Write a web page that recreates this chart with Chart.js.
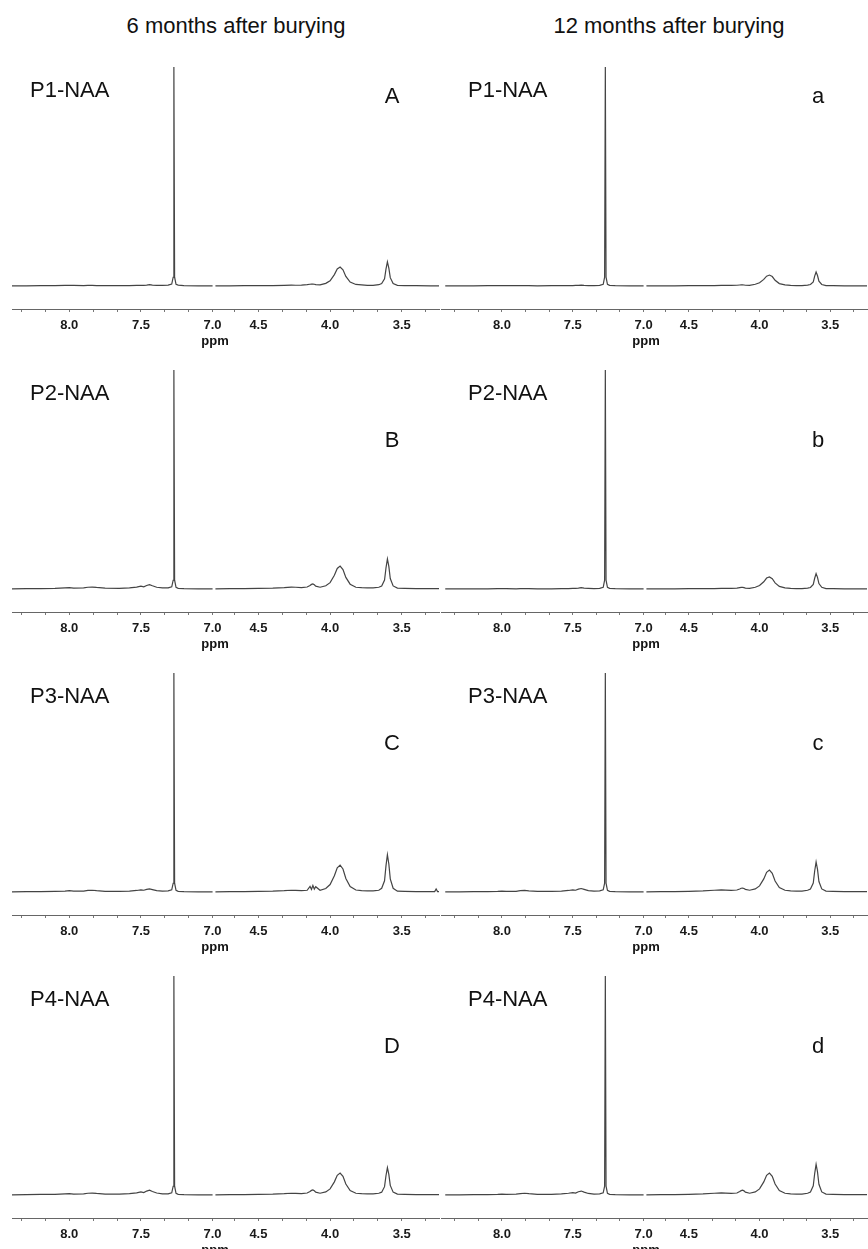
<!DOCTYPE html>
<html>
<head>
<meta charset="utf-8">
<script src="https://cdn.jsdelivr.net/npm/chart.js@4.4.1/dist/chart.umd.min.js"></script>
<style>
  html, body { margin:0; padding:0; background:#fff; }
  body { width:868px; height:1249px; position:relative; overflow:hidden; font-family:"Liberation Sans", Arial, sans-serif; }
  canvas { position:absolute; }
  .t { position:absolute; line-height:1; white-space:nowrap; color:#111; transform:translate(-50%,-50%); }
  .l { position:absolute; line-height:1; white-space:nowrap; color:#111; transform:translate(0,-50%); }
</style>
</head>
<body>
<script>
// ---------- text ----------
const columnTitles = ["6 months after burying", "12 months after burying"];
const sampleLabels = ["P1-NAA", "P2-NAA", "P3-NAA", "P4-NAA"];
const panelLetters = [["A", "a"], ["B", "b"], ["C", "c"], ["D", "d"]];
const axisTitle = "ppm";

// ---------- ppm grids (x categories) ----------
const ppmLow = [8.40, 8.30, 8.20, 8.10, 8.03, 8.00, 7.97, 7.90, 7.87, 7.84, 7.81, 7.75, 7.65, 7.58, 7.53, 7.50,
                7.48, 7.46, 7.44, 7.42, 7.39, 7.35, 7.31, 7.285, 7.275, 7.27, 7.265, 7.255, 7.24, 7.20, 7.10, 7.00];
const ppmHigh = [4.80, 4.70, 4.60, 4.50, 4.40, 4.32, 4.27, 4.24, 4.20, 4.16, 4.14, 4.13, 4.12, 4.11, 4.10, 4.07,
                 4.03, 4.00, 3.97, 3.95, 3.93, 3.91, 3.89, 3.86, 3.82, 3.78, 3.74, 3.70, 3.66, 3.64, 3.62, 3.61,
                 3.60, 3.59, 3.58, 3.56, 3.53, 3.48, 3.40, 3.30, 3.27, 3.26, 3.25, 3.24];

// ---------- tick values ----------
const ticksLow  = [8.3333, 8.1667, 8.0, 7.8333, 7.6667, 7.5, 7.3333, 7.1667, 7.0];
const ticksHigh = [4.6667, 4.5, 4.3333, 4.1667, 4.0, 3.8333, 3.6667, 3.5, 3.3333];
const labelledTicks = [8.0, 7.5, 7.0, 4.5, 4.0, 3.5];

// ---------- intensities (% of the 7.27 ppm line) ----------
const A_low  = [0.1,0.1,0.15,0.2,0.25,0.3,0.25,0.2,0.3,0.25,0.2,0.15,0.2,0.2,0.25,0.3,0.3,0.4,0.6,0.4,0.3,0.3,0.4,0.9,4,100,4,0.8,0.4,0.2,0.1,0.1];
const A_high = [0.1,0.1,0.15,0.2,0.2,0.3,0.4,0.35,0.4,0.6,0.8,0.9,0.9,0.8,0.6,0.5,1.2,2.4,5.2,7.8,8.7,7.4,4.4,1.8,0.7,0.5,0.3,0.3,0.6,1.1,3.3,7.7,11,8.2,3.8,1.1,0.3,0.2,0.15,0.1,0.1,0.1,0.1,0.1];
const a_low  = [0.1,0.1,0.1,0.15,0.2,0.2,0.2,0.15,0.2,0.2,0.15,0.1,0.15,0.15,0.2,0.2,0.25,0.3,0.4,0.3,0.2,0.2,0.3,0.8,4,100,4,0.8,0.3,0.2,0.1,0.1];
const a_high = [0.1,0.1,0.1,0.15,0.15,0.2,0.25,0.25,0.25,0.35,0.45,0.5,0.5,0.45,0.35,0.3,0.8,1.5,3.0,4.5,5.0,4.3,2.6,1.1,0.5,0.3,0.2,0.2,0.4,0.7,1.9,4.5,6.4,4.8,2.2,0.7,0.2,0.15,0.1,0.1,0.1,0.1,0.1,0.1];
const B_low  = [0.1,0.2,0.2,0.3,0.5,0.6,0.4,0.5,0.8,0.9,0.7,0.4,0.3,0.5,0.9,1.3,1.0,1.6,2.0,1.5,0.8,0.5,0.5,1.0,4,100,4,0.8,0.3,0.2,0.1,0.1];
const B_high = [0.1,0.15,0.2,0.3,0.4,0.6,0.9,0.8,0.6,0.9,1.6,2.1,2.3,1.9,1.3,0.8,1.5,2.9,6.3,9.4,10.5,8.9,5.3,2.2,0.8,0.6,0.5,0.5,0.8,1.4,4.1,9.6,13.7,10.3,4.8,1.4,0.4,0.3,0.2,0.2,0.2,0.2,0.2,0.2];
const b_low  = [0.1,0.1,0.1,0.1,0.15,0.2,0.15,0.1,0.15,0.2,0.15,0.1,0.1,0.15,0.2,0.3,0.3,0.4,0.6,0.4,0.3,0.2,0.3,0.8,4,100,4,0.8,0.3,0.2,0.1,0.1];
const b_high = [0.1,0.1,0.1,0.15,0.15,0.2,0.3,0.3,0.3,0.4,0.6,0.7,0.7,0.6,0.4,0.3,0.8,1.6,3.3,5.0,5.5,4.7,2.8,1.2,0.5,0.3,0.2,0.2,0.4,0.7,2.1,4.9,7.0,5.3,2.5,0.8,0.2,0.15,0.1,0.1,0.1,0.1,0.1,0.1];
const C_low  = [0.1,0.2,0.2,0.3,0.4,0.6,0.4,0.4,0.7,0.8,0.6,0.3,0.3,0.4,0.7,1.0,0.8,1.2,1.4,1.1,0.6,0.4,0.5,1.0,4,100,4,0.8,0.3,0.2,0.1,0.1];
const C_high = [0.1,0.15,0.2,0.3,0.4,0.6,0.8,0.7,0.6,0.8,2.6,1.2,3.0,1.3,2.4,0.8,1.6,3.4,7.4,11,12.3,10.5,6.2,2.5,0.9,0.6,0.5,0.5,0.8,1.7,5.1,11.9,17,12.8,6,1.7,0.4,0.3,0.2,0.2,0.2,1.4,0.2,0.2];
const c_low  = [0.1,0.1,0.2,0.2,0.3,0.4,0.3,0.3,0.6,0.7,0.5,0.3,0.3,0.4,0.7,1.0,0.8,1.3,1.6,1.2,0.6,0.4,0.5,1.0,4,100,4,0.8,0.3,0.2,0.1,0.1];
const c_high = [0.1,0.15,0.2,0.3,0.5,0.8,1.0,0.9,0.7,0.9,1.4,1.7,1.8,1.6,1.2,0.8,1.4,2.8,6,9,10,8.5,5,2,0.8,0.5,0.4,0.4,0.8,1.4,4.1,9.6,13.7,10.3,4.8,1.4,0.4,0.3,0.2,0.2,0.2,0.2,0.2,0.2];
const D_low  = [0.1,0.2,0.3,0.3,0.5,0.6,0.4,0.5,0.8,0.9,0.7,0.4,0.4,0.6,1.0,1.4,1.1,1.8,2.2,1.6,0.9,0.5,0.5,1.0,4,100,4,0.8,0.3,0.2,0.1,0.1];
const D_high = [0.1,0.15,0.2,0.3,0.4,0.6,0.8,0.7,0.6,0.9,1.6,2.1,2.3,1.9,1.3,0.8,1.4,2.8,6,9,10,8.5,5,2,0.8,0.6,0.5,0.5,0.8,1.3,3.8,8.8,12.5,9.4,4.4,1.3,0.4,0.3,0.2,0.2,0.2,0.2,0.2,0.2];
const d_low  = [0.1,0.1,0.2,0.2,0.3,0.4,0.3,0.4,0.6,0.8,0.6,0.3,0.3,0.5,0.8,1.1,0.9,1.5,1.8,1.3,0.7,0.4,0.5,1.0,4,100,4,0.8,0.3,0.2,0.1,0.1];
const d_high = [0.1,0.15,0.2,0.3,0.5,0.8,1.0,0.9,0.7,0.9,1.6,2.0,2.2,1.9,1.3,0.8,1.4,2.8,6,9,10,8.5,5,2,0.8,0.5,0.4,0.4,0.8,1.4,4.2,9.8,14,10.5,4.9,1.4,0.4,0.3,0.2,0.2,0.2,0.2,0.2,0.2];

const spectra = [
  [[A_low, A_high], [a_low, a_high]],
  [[B_low, B_high], [b_low, b_high]],
  [[C_low, C_high], [c_low, c_high]],
  [[D_low, D_high], [d_low, d_high]]
];

// ---------- layout ----------
const FONT = '"Liberation Sans", Arial, sans-serif';
const rowAxisY = [309, 612, 915, 1218];
const colX0 = [12, 441];
const colPx = [143.5, 141.5];
const colLowMax = [8.40, 8.43];
const LOW_MIN = 6.99, HIGH_MAX = 4.81, HIGH_MIN = 3.24;
const PAD = 16, AREA_H = 250, AXIS_H = 40;
const Y_MIN = -10.5, Y_MAX = 103.65;

function addText(txt, x, y, size, cls, weight) {
  const d = document.createElement('div');
  d.className = cls;
  d.textContent = txt;
  d.style.left = x + 'px';
  d.style.top = y + 'px';
  d.style.fontSize = size + 'px';
  d.style.fontFamily = FONT;
  if (weight) d.style.fontWeight = weight;
  document.body.appendChild(d);
}

function isMajor(v) { return labelledTicks.some(t => Math.abs(t - v) < 1e-3); }

function makeSegment(left, top, areaW, xs, ys, min, max, tickVals) {
  const cv = document.createElement('canvas');
  cv.width = areaW + 2 * PAD;
  cv.height = AREA_H + AXIS_H;
  cv.style.left = (left - PAD) + 'px';
  cv.style.top = top + 'px';
  document.body.appendChild(cv);
  new Chart(cv, {
    type: 'line',
    data: { datasets: [{
      data: xs.map((x, i) => ({ x: x, y: ys[i] })),
      borderColor: '#444', borderWidth: 1.2, pointRadius: 0, tension: 0, fill: false
    }]},
    options: {
      animation: false, responsive: false, maintainAspectRatio: false,
      layout: { padding: { left: PAD, right: PAD, top: 0, bottom: 0 } },
      plugins: { legend: { display: false }, tooltip: { enabled: false } },
      scales: {
        x: {
          type: 'linear', reverse: true, min: min, max: max,
          afterBuildTicks: s => { s.ticks = tickVals.map(v => ({ value: v })); },
          afterFit: s => { s.height = AXIS_H; },
          ticks: {
            autoSkip: false, maxRotation: 0, minRotation: 0, padding: 6, color: '#1a1a1a',
            font: { family: FONT, weight: 'bold', size: 13 },
            callback: v => isMajor(v) ? Number(v).toFixed(1) : ''
          },
          grid: { drawOnChartArea: false, drawTicks: true, tickLength: 3, color: '#777', tickWidth: 1 },
          border: { display: true, color: '#666', width: 1 }
        },
        y: { display: false, min: Y_MIN, max: Y_MAX }
      }
    }
  });
}

// titles
addText(columnTitles[0], 236, 26, 22, 't');
addText(columnTitles[1], 669, 26, 22, 't');

for (let r = 0; r < 4; r++) {
  const ay = rowAxisY[r];
  const top = ay - AREA_H;
  for (let c = 0; c < 2; c++) {
    const px = colPx[c];
    const lowW = Math.round((colLowMax[c] - LOW_MIN) * px);
    const highW = Math.round((HIGH_MAX - HIGH_MIN) * px);
    const x0 = colX0[c];
    const [low, high] = spectra[r][c];
    makeSegment(x0, top, lowW, ppmLow, low, LOW_MIN, colLowMax[c], ticksLow);
    makeSegment(x0 + lowW, top, highW, ppmHigh, high, HIGH_MIN, HIGH_MAX, ticksHigh);
    // labels
    addText(sampleLabels[r], x0 + (c === 0 ? 18 : 27), ay - 219, 22, 'l');
    const letterX = c === 0 ? 392 : 818;
    const letterY = r === 0 ? ay - 213 : ay - 172;
    addText(panelLetters[r][c], letterX, letterY, 22, 't');
    addText(axisTitle, x0 + lowW + 1, ay + 31, 13, 't', 'bold');
  }
}
</script>
</body>
</html>
